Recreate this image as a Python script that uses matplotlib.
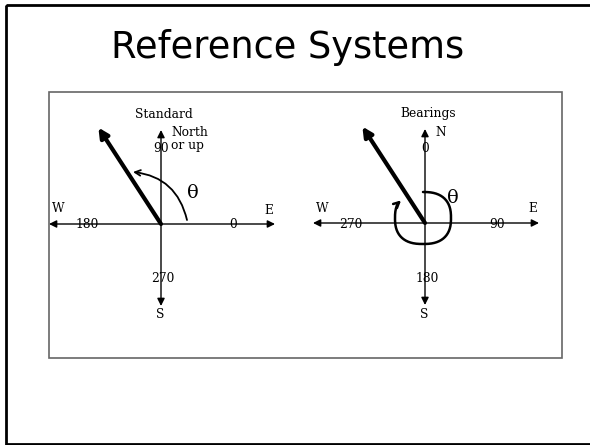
import numpy as np
import matplotlib.pyplot as plt
from matplotlib.patches import FancyArrowPatch, Rectangle

# slide text
title = "Reference Systems"
panel_titles = ["Standard", "Bearings"]

# degree label on each axis direction (N, E, S, W) for the two systems
standard_degrees = ["90", "0", "270", "180"]
bearing_degrees = ["0", "90", "180", "270"]

# direction of the drawn vector, standard angle (deg, ccw from east)
vector_angle = 123

# hand drawn theta sweep for the bearing panel (clockwise from north)
bearing_sweep = [0, 305]

fig = plt.figure(figsize=(5.9, 4.45), dpi=100)
ax = fig.add_axes([0, 0, 1, 1])
ax.set_xlim(0, 590)
ax.set_ylim(445, 0)
ax.axis("off")

# slide border and picture frame
ax.add_patch(Rectangle((6, 5), 600, 439, fill=False, lw=2.0, ec="black"))
ax.add_patch(Rectangle((49, 92), 513, 266, fill=False, lw=1.2, ec="#666666"))

ax.text(288, 47, title, ha="center", va="center", fontsize=26.5,
        family="DejaVu Sans")

serif = "DejaVu Serif"
small = 8.8


def label(x, y, s, ha="center", **kw):
    ax.text(x, y, s, ha=ha, va="center", fontsize=small, family=serif, **kw)


def axis_arrow(x0, y0, x1, y1):
    ax.add_patch(FancyArrowPatch((x0, y0), (x1, y1), arrowstyle="-|>",
                                 mutation_scale=11, lw=1, color="black",
                                 shrinkA=0, shrinkB=0))


def compass(cx, cy, head, degrees, north):
    # axes
    axis_arrow(cx, cy, cx + 114, cy)
    axis_arrow(cx, cy, cx - 112, cy)
    axis_arrow(cx, cy, cx, cy - 94)
    axis_arrow(cx, cy, cx, cy + 82)
    label(cx + 3, cy - 110, head)
    # compass letters
    label(cx + 108, cy - 14, "E")
    label(cx - 103, cy - 15, "W")
    label(cx - 1, cy + 91, "S")
    label(cx + 10, cy - 85 if "\n" in north else cy - 90, north, ha="left",
          linespacing=1.05)
    # degree labels on the axes
    n, e, s, w = degrees
    label(cx, cy - 75, n)
    label(cx + 72, cy + 1, e)
    label(cx + 2, cy + 55, s)
    label(cx - 74, cy + 1, w)
    # the vector
    a = np.deg2rad(vector_angle)
    ax.add_patch(FancyArrowPatch((cx, cy), (cx + 115 * np.cos(a), cy - 115 * np.sin(a)),
                                 arrowstyle="-|>", mutation_scale=14, lw=3,
                                 color="black", shrinkA=0, shrinkB=0))


# standard system
cx1, cy1 = 161, 224
compass(cx1, cy1, panel_titles[0], standard_degrees, "North\nor up")
ax.add_patch(FancyArrowPatch((cx1 + 26, cy1 - 4), (cx1 - 28, cy1 - 52),
                             connectionstyle="arc3,rad=0.35", arrowstyle="->",
                             mutation_scale=10, lw=1.3, color="black",
                             shrinkA=0, shrinkB=0))
ax.text(cx1 + 32, cy1 - 31, "θ", ha="center", va="center",
        fontsize=14, family=serif)

# bearings system: rounded hand drawn loop
cx2, cy2 = 425, 223
compass(cx2, cy2, panel_titles[1], bearing_degrees, "N")
b = np.deg2rad(np.linspace(bearing_sweep[0], bearing_sweep[1], 160))
sx, cy_ = np.sin(b), np.cos(b)
p = 2.5
sq_x = np.sign(sx) * np.abs(sx) ** (2 / p)
sq_y = np.sign(cy_) * np.abs(cy_) ** (2 / p)
xs = cx2 - 2 + 28 * sq_x
ys = cy2 - 5 - 26 * sq_y
ax.plot(xs[:-3], ys[:-3], color="black", lw=1.8, solid_capstyle="round")
ax.add_patch(FancyArrowPatch((xs[-4], ys[-4]), (xs[-1] + 2, ys[-1] - 1),
                             arrowstyle="->", mutation_scale=10, lw=1.8,
                             color="black", shrinkA=0, shrinkB=0))
ax.text(cx2 + 28, cy2 - 25, "θ", ha="center", va="center",
        fontsize=14, family=serif)

fig.savefig("out.png", dpi=100)
